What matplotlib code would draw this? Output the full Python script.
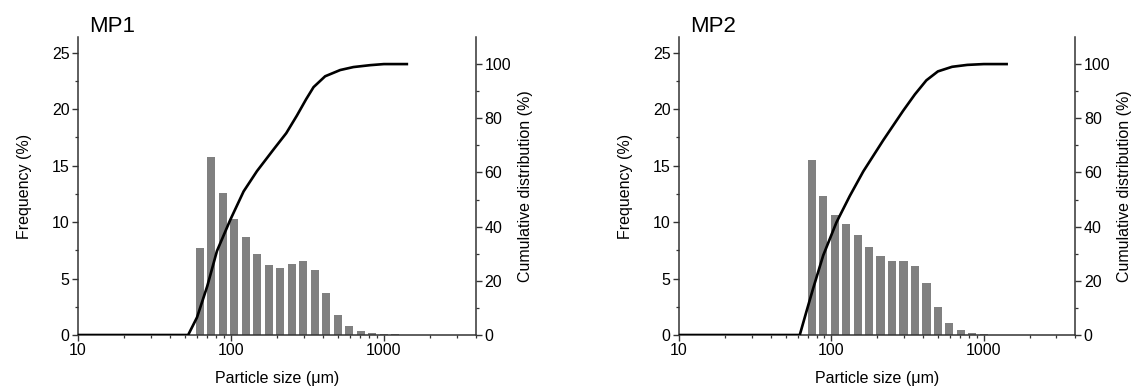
import numpy as np
import matplotlib

matplotlib.use("Agg")
import matplotlib.pyplot as plt  # noqa: E402
from matplotlib.ticker import FixedLocator, NullFormatter  # noqa: E402

plt.rcParams["font.family"] = ["Liberation Sans", "DejaVu Sans"]

BAR, INK, SPINE = "#808080", "#000000", "#333333"
FS = 11.5

# bin centres (um), quarter-octave spacing
bins = [62.5, 74.3, 88.4, 105.1, 125, 148.7, 176.8, 210.2, 250, 297.3,
        353.6, 420.4, 500, 594.6, 707.1, 840.9, 1000, 1189, 1414]

mp1_freq = [7.7, 15.8, 12.6, 10.3, 8.7, 7.2, 6.2, 5.9, 6.3, 6.6,
            5.8, 3.7, 1.8, 0.8, 0.35, 0.15, 0.08, 0.05, 0.03]
mp2_freq = [0.0, 15.5, 12.3, 10.6, 9.8, 8.9, 7.8, 7.0, 6.6, 6.6,
            6.1, 4.6, 2.5, 1.1, 0.4, 0.18, 0.08, 0.04, 0.02]

mp1_cum_x = [10, 52.5, 60, 70, 81, 99, 121, 148, 190, 230, 270, 310,
             347, 413, 518, 632, 813, 1000, 1413]
mp1_cum_y = [0, 0, 6.5, 18, 31, 42.5, 53, 60.5, 68.5, 74.5, 81, 87,
             91.5, 95.5, 97.8, 98.9, 99.6, 100, 100]

mp2_cum_x = [10, 62, 68.7, 76, 88.4, 108, 132, 162, 219, 296, 353,
             420, 500, 620, 780, 1000, 1413]
mp2_cum_y = [0, 0, 8.8, 17.3, 29.4, 41.6, 51.3, 60.4, 71.9, 82.8, 88.8,
             94, 97.3, 99, 99.7, 100, 100]

samples = [
    ("MP1", mp1_freq, mp1_cum_x, mp1_cum_y, [0.0686, 0.1432, 0.3500, 0.7622]),
    ("MP2", mp2_freq, mp2_cum_x, mp2_cum_y, [0.5972, 0.1432, 0.3487, 0.7622]),
]

fig = plt.figure(figsize=(11.37, 3.91), dpi=100)

for name, freq, cx, cy, rect in samples:
    ax = fig.add_axes(rect)
    c = np.array(bins)
    half = 10 ** (0.054 / 2)
    left, right = c / half, c * half
    ax.bar(left, np.array(freq), width=right - left, align="edge",
           color=BAR, linewidth=0, zorder=2)

    ax.set_xscale("log")
    ax.set_xlim(10, 4000)
    ax.set_ylim(0, 26.4)
    ax.xaxis.set_major_locator(FixedLocator([10, 100, 1000]))
    ax.set_xticklabels(["10", "100", "1000"])
    minors = [m * d for d in (10, 100, 1000) for m in range(2, 10) if m * d <= 4000]
    ax.xaxis.set_minor_locator(FixedLocator(minors))
    ax.xaxis.set_minor_formatter(NullFormatter())
    ax.set_yticks([0, 5, 10, 15, 20, 25])
    ax.set_yticks([2.5, 7.5, 12.5, 17.5, 22.5], minor=True)
    ax.spines["top"].set_visible(False)
    ax.spines["right"].set_visible(False)
    for s in ("left", "bottom"):
        ax.spines[s].set_color(SPINE)
        ax.spines[s].set_linewidth(1.1)
    ax.tick_params(which="major", direction="out", length=4, width=1.0,
                   color=SPINE, labelsize=FS, pad=2)
    ax.tick_params(which="minor", direction="out", length=2.5, width=0.9,
                   color=SPINE)
    ax.set_xlabel("Particle size (\u03bcm)", fontsize=FS, labelpad=9)
    ax.set_ylabel("Frequency (%)", fontsize=FS, labelpad=14)

    ax2 = ax.twinx()
    ax2.plot(cx, cy, color=INK, lw=1.9, zorder=3)
    ax2.set_ylim(0, 110)
    ax2.set_yticks([0, 20, 40, 60, 80, 100])
    ax2.set_yticks([10, 30, 50, 70, 90], minor=True)
    ax2.spines["top"].set_visible(False)
    ax2.spines["left"].set_visible(False)
    ax2.spines["bottom"].set_visible(False)
    ax2.spines["right"].set_color(SPINE)
    ax2.spines["right"].set_linewidth(1.1)
    ax2.tick_params(which="major", direction="out", length=4, width=1.0,
                    color=SPINE, labelsize=FS, pad=2)
    ax2.tick_params(which="minor", direction="out", length=2.5, width=0.9,
                    color=SPINE)
    ax2.set_ylabel("Cumulative distribution (%)", fontsize=FS, labelpad=5)

    fig.text(rect[0] + 0.010, 1 - 32 / 391, name, fontsize=16,
             ha="left", va="baseline")

fig.savefig("out.png", dpi=100)
